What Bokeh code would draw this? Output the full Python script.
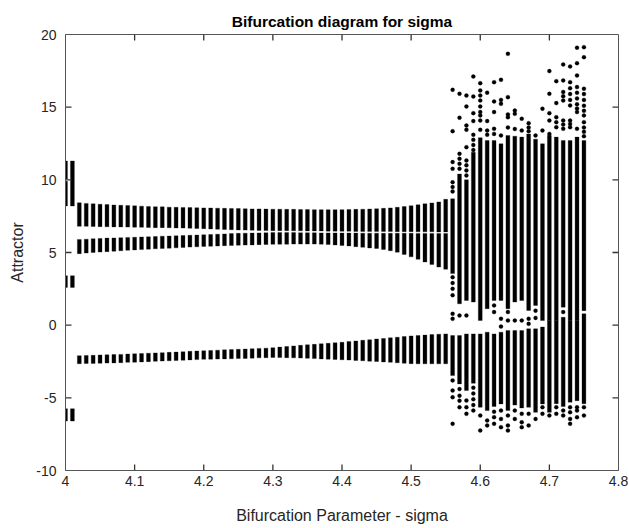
from bokeh.plotting import figure
from bokeh.models import Range1d, FixedTicker, ColumnDataSource
from bokeh.embed import file_html
from bokeh.resources import INLINE

# ---------------- texts and ticks ----------------
title_text = "Bifurcation diagram for sigma"
x_label = "Bifurcation Parameter - sigma"
y_label = "Attractor"
x_ticks = [4.0, 4.1, 4.2, 4.3, 4.4, 4.5, 4.6, 4.7, 4.8]
x_tick_labels = ["4", "4.1", "4.2", "4.3", "4.4", "4.5", "4.6", "4.7", "4.8"]
y_ticks = [-10, -5, 0, 5, 10, 15, 20]
y_tick_labels = ["-10", "-5", "0", "5", "10", "15", "20"]

# ---------------- first columns (sigma 4.00, 4.01) ----------------
start_sigma = [4.00, 4.00, 4.00, 4.00, 4.01, 4.01, 4.01]
start_top = [11.30, 9.90, 3.40, -5.75, 11.30, 3.40, -5.75]
start_bot = [10.05, 8.20, 2.60, -6.60, 8.20, 2.60, -6.60]

# ---------------- periodic columns (sigma 4.02 .. 4.55) ----------------
sigma_p = [4.02, 4.03, 4.04, 4.05, 4.06, 4.07, 4.08, 4.09, 4.10, 4.11,
           4.12, 4.13, 4.14, 4.15, 4.16, 4.17, 4.18, 4.19, 4.20, 4.21,
           4.22, 4.23, 4.24, 4.25, 4.26, 4.27, 4.28, 4.29, 4.30, 4.31,
           4.32, 4.33, 4.34, 4.35, 4.36, 4.37, 4.38, 4.39, 4.40, 4.41,
           4.42, 4.43, 4.44, 4.45, 4.46, 4.47, 4.48, 4.49, 4.50, 4.51,
           4.52, 4.53, 4.54, 4.55]
up_top = [8.42, 8.38, 8.35, 8.32, 8.30, 8.27, 8.25, 8.23, 8.21, 8.19,
          8.17, 8.15, 8.14, 8.12, 8.11, 8.10, 8.09, 8.08, 8.07, 8.06,
          8.05, 8.04, 8.03, 8.02, 8.01, 8.00, 8.00, 7.99, 7.98, 7.98,
          7.97, 7.97, 7.96, 7.96, 7.95, 7.95, 7.95, 7.95, 7.95, 7.96,
          7.97, 7.98, 7.99, 8.01, 8.04, 8.07, 8.11, 8.16, 8.22, 8.28,
          8.35, 8.41, 8.48, 8.66]
up_bot = [6.80, 6.80, 6.79, 6.78, 6.77, 6.76, 6.76, 6.75, 6.74, 6.73,
          6.72, 6.71, 6.71, 6.70, 6.69, 6.68, 6.67, 6.65, 6.64, 6.62,
          6.60, 6.58, 6.57, 6.55, 6.54, 6.53, 6.52, 6.51, 6.50, 6.50,
          6.50, 6.49, 6.49, 6.48, 6.48, 6.48, 6.47, 6.47, 6.46, 6.46,
          6.45, 6.45, 6.45, 6.44, 6.44, 6.44, 6.43, 6.43, 6.43, 6.42,
          6.42, 6.42, 6.41, 6.41]
mid_top = [5.90, 5.92, 5.95, 5.97, 5.99, 6.00, 6.02, 6.04, 6.05, 6.07,
           6.08, 6.10, 6.12, 6.13, 6.15, 6.17, 6.19, 6.20, 6.22, 6.24,
           6.26, 6.28, 6.30, 6.32, 6.33, 6.34, 6.35, 6.36, 6.37, 6.37,
           6.37, 6.37, 6.36, 6.36, 6.36, 6.35, 6.35, 6.35, 6.34, 6.34,
           6.34, 6.33, 6.33, 6.33, 6.32, 6.32, 6.32, 6.32, 6.32, 6.31,
           6.31, 6.31, 6.31, 6.31]
mid_bot = [4.92, 4.96, 5.00, 5.03, 5.06, 5.09, 5.12, 5.15, 5.18, 5.20,
           5.23, 5.25, 5.28, 5.30, 5.32, 5.35, 5.37, 5.39, 5.42, 5.43,
           5.45, 5.47, 5.48, 5.50, 5.51, 5.52, 5.54, 5.55, 5.56, 5.57,
           5.57, 5.58, 5.58, 5.58, 5.58, 5.57, 5.55, 5.52, 5.48, 5.45,
           5.40, 5.36, 5.31, 5.27, 5.20, 5.12, 5.02, 4.87, 4.70, 4.53,
           4.35, 4.18, 4.00, 3.85]
low_top = [-2.10, -2.08, -2.07, -2.05, -2.04, -2.02, -2.01, -1.99, -1.97, -1.95,
           -1.93, -1.91, -1.89, -1.87, -1.85, -1.83, -1.80, -1.78, -1.76, -1.74,
           -1.72, -1.70, -1.68, -1.66, -1.64, -1.62, -1.60, -1.58, -1.55, -1.51,
           -1.47, -1.43, -1.39, -1.35, -1.32, -1.28, -1.25, -1.21, -1.18, -1.13,
           -1.09, -1.04, -1.00, -0.95, -0.91, -0.87, -0.83, -0.78, -0.74, -0.71,
           -0.68, -0.65, -0.62, -0.60]
low_bot = [-2.65, -2.64, -2.63, -2.62, -2.61, -2.60, -2.58, -2.56, -2.55, -2.53,
           -2.51, -2.49, -2.47, -2.45, -2.43, -2.41, -2.39, -2.37, -2.35, -2.34,
           -2.33, -2.32, -2.31, -2.30, -2.29, -2.27, -2.25, -2.24, -2.22, -2.23,
           -2.24, -2.25, -2.26, -2.28, -2.30, -2.32, -2.34, -2.36, -2.38, -2.40,
           -2.43, -2.45, -2.48, -2.50, -2.53, -2.56, -2.59, -2.62, -2.65, -2.66,
           -2.66, -2.66, -2.66, -2.66]

# ---------------- chaotic columns (sigma 4.56 .. 4.75) ----------------
sigma_c = [4.56, 4.57, 4.58, 4.59, 4.60, 4.61, 4.62, 4.63, 4.64, 4.65,
           4.66, 4.67, 4.68, 4.69, 4.70, 4.71, 4.72, 4.73, 4.74, 4.75]
ch_top = [8.70, 10.40, 10.00, 11.90, 12.90, 12.70, 12.70, 12.48, 13.05, 13.00,
          12.94, 13.16, 12.80, 12.48, 13.05, 12.94, 12.71, 12.70, 12.94, 12.71]
ch_ubot = [3.55, 1.47, 1.70, 1.59, 0.32, 1.13, 1.70, 1.70, 1.13, 1.59,
           1.70, 1.01, 1.36, 0.32, 0.30, 0.30, 1.24, 0.30, 0.30, 1.00]
ch_ltop = [-0.71, -0.71, -0.60, -0.60, -0.60, -0.48, -0.60, -0.48, -0.37, -0.37,
           -0.37, -0.25, -0.25, -0.13, 0.30, 0.30, 0.55, 0.30, 0.30, 0.78]
ch_bot = [-3.47, -4.04, -4.50, -4.00, -5.65, -5.88, -5.60, -5.42, -5.88, -5.50,
          -5.70, -5.65, -6.00, -5.42, -6.00, -5.40, -5.60, -5.30, -5.20, -5.40]

# scattered points per chaotic column: above the dense band, in the gap, below
dots_above = [
    [16.19, 13.35, 11.22, 10.76, 9.84, 9.50, 9.20],
    [15.92, 14.27, 11.79, 11.45, 11.10, 10.76],
    [15.80, 15.05, 13.74, 13.45, 12.25, 11.33, 11.00, 10.65, 10.30],
    [17.11, 15.73, 14.59, 14.04, 13.10, 12.75, 12.40, 12.05],
    [16.65, 16.15, 15.80, 15.46, 15.05, 14.66, 14.43, 14.08, 13.44],
    [16.00, 14.04, 13.39, 13.10],
    [16.72, 15.39, 14.66, 13.51, 13.16],
    [16.88, 15.50, 15.23, 13.05],
    [18.67, 15.69, 14.50, 14.30, 13.60],
    [14.77, 14.54, 13.50],
    [14.20, 13.39],
    [13.90, 13.60, 13.35],
    [13.05],
    [14.89, 13.39],
    [17.48, 15.92, 14.59, 14.08, 13.16],
    [16.79, 15.28, 14.31, 13.97, 13.62],
    [17.94, 16.84, 16.04, 15.75, 15.46, 14.08, 13.80, 13.51],
    [17.80, 16.72, 16.30, 15.90, 15.50, 15.12, 14.08, 13.85, 13.62],
    [19.09, 18.03, 17.18, 16.38, 16.00, 15.60, 15.20, 14.90, 14.66, 13.51],
    [19.13, 18.44, 16.27, 15.90, 15.50, 15.10, 14.75, 14.43, 13.97, 13.60, 13.30, 13.00],
]
dots_mid = [
    [3.30, 2.90, 2.50, 2.06, 0.78, 0.44],
    [0.66],
    [0.67],
    [],
    [],
    [],
    [1.36, 0.90],
    [0.44, -0.10],
    [0.90, 0.32],
    [0.32],
    [0.32],
    [0.44, 0.09],
    [1.00, 0.50],
    [],
    [],
    [],
    [0.90],
    [],
    [],
    [],
]
dots_below = [
    [-3.80, -4.50, -4.96, -6.79],
    [-4.40, -4.85, -5.20, -5.65],
    [-5.19, -5.65, -6.10],
    [-4.30, -4.70, -5.10, -5.50, -5.88],
    [-6.22, -7.25],
    [-6.56, -6.90],
    [-5.95, -6.33, -6.79],
    [-5.88, -6.45, -7.02],
    [-6.22, -6.90, -7.25],
    [-5.88, -6.45],
    [-6.10, -6.68, -7.02],
    [-6.10, -6.90],
    [-6.45],
    [-5.65, -6.10],
    [-6.22],
    [-5.65, -6.10],
    [-5.88, -6.22],
    [-5.65, -6.00, -6.45, -6.79],
    [-5.65, -5.88, -6.34],
    [-5.65, -6.22],
]

# ---------------- assemble sources ----------------
bx, btop, bbot = [], [], []
bx += start_sigma; btop += start_top; bbot += start_bot
for s, a, b, c, d, e, f in zip(sigma_p, up_top, up_bot, mid_top, mid_bot, low_top, low_bot):
    bx += [s, s, s]; btop += [a, c, e]; bbot += [b, d, f]
for s, a, b, c, d in zip(sigma_c, ch_top, ch_ubot, ch_ltop, ch_bot):
    bx += [s, s]; btop += [a, c]; bbot += [b, d]
bands = ColumnDataSource(dict(x=bx, top=btop, bottom=bbot))

dx, dy = [], []
for s, A, M, B in zip(sigma_c, dots_above, dots_mid, dots_below):
    for v in A + M + B:
        dx.append(s); dy.append(v)
dots = ColumnDataSource(dict(x=dx, y=dy))

# ---------------- figure ----------------
FONT = "Liberation Sans"
AX = "#262626"
GRID = "#555555"
W, H = 629, 528
BL, BR, BT, BB = 65, 11, 34, 58
X0, X1, Y0, Y1 = 4.0, 4.8, -10, 20

p = figure(width=W, height=H, output_backend="svg", toolbar_location=None,
           x_range=Range1d(X0, X1), y_range=Range1d(Y0, Y1),
           min_border_left=BL, min_border_right=BR, min_border_top=BT, min_border_bottom=BB,
           x_axis_label=x_label, y_axis_label=y_label)
p.title.text = title_text
p.title.align = "center"
p.title.text_font = FONT
p.title.text_font_size = "15.5px"
p.title.text_font_style = "bold"
p.title.text_color = "#000000"
p.background_fill_color = "white"
p.border_fill_color = "white"
p.outline_line_color = GRID
p.outline_line_width = 1
p.xgrid.visible = False
p.ygrid.visible = False

p.vbar(x="x", top="top", bottom="bottom", width=0.0056, source=bands,
       fill_color="black", line_color="black", line_width=0.3)
p.scatter(x="x", y="y", source=dots, size=4, marker="circle",
          fill_color="black", line_color="black", line_width=0.3)

# inward tick marks on all four sides (MATLAB box style), length in pixels
TICK = 6
tx = TICK * (X1 - X0) / (W - BL - BR)
ty = TICK * (Y1 - Y0) / (H - BT - BB)
sx0, sy0, sx1, sy1 = [], [], [], []
for t in x_ticks[1:-1]:
    sx0 += [t, t]; sx1 += [t, t]; sy0 += [Y0, Y1]; sy1 += [Y0 + ty, Y1 - ty]
for t in y_ticks[1:-1]:
    sx0 += [X0, X1]; sx1 += [X0 + tx, X1 - tx]; sy0 += [t, t]; sy1 += [t, t]
ticks_src = ColumnDataSource(dict(x0=sx0, y0=sy0, x1=sx1, y1=sy1))
p.segment(x0="x0", y0="y0", x1="x1", y1="y1", source=ticks_src,
          line_color="#333333", line_width=1.3)

for ax, ticks, labels in ((p.xaxis[0], x_ticks, x_tick_labels), (p.yaxis[0], y_ticks, y_tick_labels)):
    ax.ticker = FixedTicker(ticks=ticks)
    ax.major_label_overrides = {t: l for t, l in zip(ticks, labels)}
    ax.major_tick_in = 0
    ax.major_tick_out = 0
    ax.minor_tick_in = 0
    ax.minor_tick_out = 0
    ax.axis_line_color = GRID
    ax.major_label_text_font = FONT
    ax.major_label_text_font_size = "14px"
    ax.major_label_text_color = AX
    ax.axis_label_text_font = FONT
    ax.axis_label_text_font_size = "16px"
    ax.axis_label_text_font_style = "normal"
    ax.axis_label_text_color = AX

p.xaxis[0].major_label_standoff = 5
p.xaxis[0].axis_label_standoff = 18
p.yaxis[0].major_label_standoff = 9
p.yaxis[0].axis_label_standoff = 7

open("out.html", "w").write(file_html(p, INLINE))
